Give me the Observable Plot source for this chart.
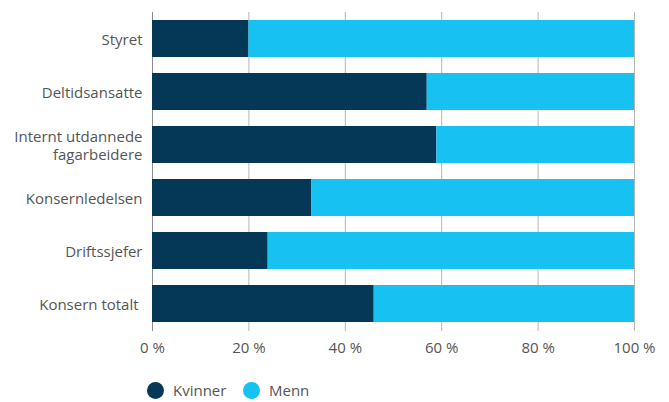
<!DOCTYPE html>
<html>
<head>
<meta charset="utf-8">
<script src="https://cdn.jsdelivr.net/npm/d3@7"></script>
<script src="https://cdn.jsdelivr.net/npm/@observablehq/plot@0.6"></script>
<style>
  body { margin: 0; background: #fff; font-family: "Open Sans", sans-serif; }
  #chart svg { display: block; }
  .legend { position: relative; height: 30px; font-family: "Open Sans", sans-serif; font-size: 15px; color: #555; }
  .legend .item { position: absolute; top: 8px; display: flex; align-items: center; }
  .legend .sw { width: 17px; height: 17px; border-radius: 50%; display: inline-block; margin-right: 9px; }
</style>
</head>
<body>
<div id="chart"></div>
<div class="legend" id="legend"></div>
<script>
const categories = ["Styret", "Deltidsansatte", "Internt utdannede\nfagarbeidere", "Konsernledelsen", "Driftssjefer", "Konsern totalt\u00a0"];
const series = ["Kvinner", "Menn"];
const kvinner = [20, 57, 59, 33, 24, 46];
const menn = [80, 43, 41, 67, 76, 54];
const xTicks = [0, 20, 40, 60, 80, 100];
const colors = ["#043856", "#17c1f1"];

const data = [];
categories.forEach((c, i) => {
  data.push({category: c, series: series[0], value: kvinner[i]});
  data.push({category: c, series: series[1], value: menn[i]});
});

const chart = Plot.plot({
  width: 669,
  height: 372,
  marginTop: 12,
  marginBottom: 41,
  marginLeft: 152,
  marginRight: 35,
  style: {fontFamily: "Open Sans, sans-serif", fontSize: "15px", color: "#555", background: "#fff"},
  x: {domain: [0, 100], ticks: xTicks},
  y: {domain: categories, paddingInner: 0.3, paddingOuter: 0.15},
  color: {domain: series, range: colors},
  marks: [
    Plot.gridX(xTicks.filter(d => d !== 0), {stroke: "#b5b5b5", strokeOpacity: 1, strokeWidth: 1}),
    Plot.gridX([0], {stroke: "#8c8c8c", strokeOpacity: 1, strokeWidth: 1}),
    Plot.barX(data, Plot.stackX({x: "value", y: "category", fill: "series", order: series})),
    Plot.axisX(xTicks, {tickSize: 0, tickPadding: 11, tickFormat: d => d + " %", label: null, fill: "#555"}),
    Plot.axisY({tickSize: 0, tickPadding: 10, label: null, lineHeight: 1.25, fill: "#555"})
  ]
});
document.getElementById("chart").appendChild(chart);

const legend = document.getElementById("legend");
const positions = [147, 243];
series.forEach((s, i) => {
  const item = document.createElement("div");
  item.className = "item";
  item.style.left = positions[i] + "px";
  const sw = document.createElement("span");
  sw.className = "sw";
  sw.style.background = colors[i];
  const t = document.createElement("span");
  t.textContent = s;
  item.appendChild(sw);
  item.appendChild(t);
  legend.appendChild(item);
});
</script>
</body>
</html>
